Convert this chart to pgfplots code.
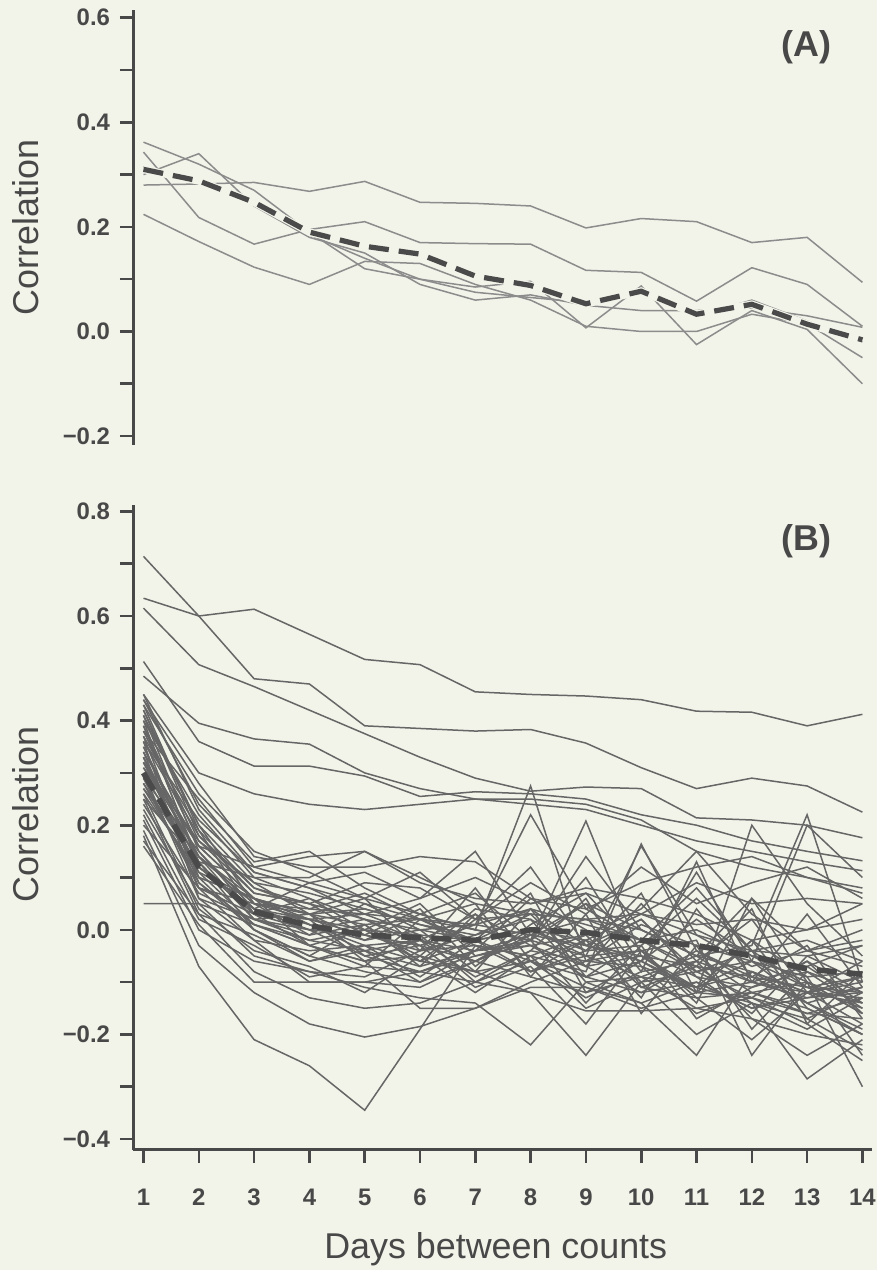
\documentclass[border=0pt]{standalone}
\usepackage{fontspec}
\setmainfont{Liberation Sans}
\usepackage{pgfplots}
\usepackage{pgfplotstable}
\pgfplotsset{compat=1.18}

\definecolor{paper}{HTML}{F2F3E9}
\definecolor{ink}{HTML}{484848}
\definecolor{traceA}{HTML}{8C8C8C}
\definecolor{traceB}{HTML}{666666}
\definecolor{meanline}{HTML}{4A4A4A}

% One row per site: correlation against days between counts (1..14)
\pgfplotstableread{
id d1 d2 d3 d4 d5 d6 d7 d8 d9 d10 d11 d12 d13 d14
a1 0.280 0.282 0.285 0.268 0.287 0.247 0.245 0.240 0.198 0.216 0.210 0.170 0.180 0.094
a2 0.343 0.218 0.167 0.195 0.210 0.170 0.168 0.167 0.117 0.113 0.058 0.122 0.090 0.010
a3 0.362 0.320 0.270 0.190 0.120 0.100 0.085 0.096 0.007 0.087 -0.025 0.040 0.004 -0.100
a4 0.224 0.172 0.123 0.090 0.134 0.130 0.090 0.060 0.010 0.000 0.000 0.033 0.015 -0.050
a5 0.300 0.340 0.240 0.180 0.150 0.090 0.060 0.070 0.050 0.040 0.040 0.045 0.030 0.008
a6 0.315 0.290 0.250 0.185 0.140 0.100 0.075 0.065 0.055 0.075 0.030 0.060 0.020 -0.020
}\sitesA
\pgfplotstabletranspose[colnames from=id]\sitesAT\sitesA

\pgfplotstableread{
day mean
1 0.310
2 0.288
3 0.247
4 0.190
5 0.163
6 0.148
7 0.106
8 0.088
9 0.053
10 0.077
11 0.033
12 0.052
13 0.014
14 -0.016
}\meanA

\pgfplotstableread{
id d1 d2 d3 d4 d5 d6 d7 d8 d9 d10 d11 d12 d13 d14
b1 0.714 0.600 0.480 0.470 0.390 0.385 0.380 0.383 0.357 0.310 0.270 0.290 0.275 0.225
b2 0.634 0.600 0.613 0.565 0.517 0.507 0.455 0.450 0.447 0.440 0.418 0.416 0.390 0.412
b3 0.615 0.507 0.465 0.420 0.375 0.330 0.290 0.265 0.273 0.270 0.214 0.210 0.200 0.176
b4 0.513 0.360 0.313 0.313 0.294 0.255 0.264 0.260 0.250 0.220 0.200 0.170 0.150 0.132
b5 0.485 0.395 0.365 0.355 0.300 0.270 0.250 0.240 0.230 0.200 0.170 0.150 0.130 0.113
b6 0.450 0.300 0.260 0.240 0.230 0.240 0.250 0.250 0.240 0.210 0.150 0.120 0.100 0.080
b7 0.440 0.240 0.130 0.150 0.080 0.030 0.000 -0.020 0.050 0.000 -0.050 -0.080 -0.120 -0.100
b8 0.420 0.200 0.050 0.020 -0.010 -0.030 0.010 0.040 -0.030 -0.060 0.020 -0.050 -0.100 -0.160
b9 0.410 0.150 0.030 -0.030 0.000 0.050 -0.050 -0.020 0.100 -0.070 -0.110 -0.020 -0.150 -0.200
b10 0.400 0.220 0.100 0.060 0.020 -0.020 -0.060 0.000 -0.040 0.020 -0.080 -0.130 -0.060 -0.120
b11 0.390 0.130 0.020 0.000 -0.050 -0.080 -0.040 0.060 0.000 -0.100 -0.040 -0.090 -0.140 -0.110
b12 0.380 0.250 0.120 0.140 0.150 0.100 0.050 0.030 0.020 -0.020 0.000 -0.050 -0.070 -0.030
b13 0.370 0.100 0.000 -0.050 -0.080 -0.100 -0.040 -0.010 -0.070 -0.120 -0.100 -0.150 -0.120 -0.180
b14 0.360 0.180 0.080 0.040 0.070 0.020 -0.030 -0.050 -0.010 0.040 0.150 0.030 -0.040 -0.020
b15 0.350 0.120 0.040 0.010 -0.020 0.000 -0.020 -0.060 -0.130 -0.080 -0.060 -0.100 -0.120 -0.130
b16 0.340 0.160 0.060 0.020 0.030 -0.010 -0.100 -0.040 -0.060 0.010 -0.030 -0.060 -0.090 -0.080
b17 0.330 0.080 -0.020 -0.040 -0.030 -0.060 -0.080 -0.120 -0.240 -0.100 -0.080 -0.060 -0.110 -0.150
b18 0.330 0.140 0.050 0.030 0.010 0.020 0.000 0.275 -0.060 -0.040 -0.090 -0.110 -0.080 -0.120
b19 0.320 0.110 0.010 -0.020 -0.040 -0.020 0.030 -0.030 -0.010 -0.110 -0.130 -0.120 -0.160 -0.130
b20 0.310 0.170 0.090 0.070 0.040 0.010 -0.010 0.020 -0.040 -0.030 0.060 -0.040 -0.020 -0.060
b21 0.300 0.120 0.030 0.000 -0.010 -0.040 -0.030 -0.080 -0.050 -0.040 -0.020 -0.240 -0.100 -0.160
b22 0.300 0.060 -0.020 -0.100 -0.100 -0.080 -0.050 -0.030 -0.070 -0.050 -0.120 -0.100 -0.130 -0.110
b23 0.290 0.150 0.040 0.000 0.020 -0.030 -0.060 -0.010 0.020 0.000 -0.050 -0.030 0.220 -0.100
b24 0.280 0.090 0.010 -0.030 -0.060 -0.050 0.040 0.020 -0.100 -0.140 -0.240 -0.080 -0.140 -0.190
b25 0.270 0.100 0.060 0.030 -0.020 0.030 0.000 -0.020 0.208 -0.050 -0.110 -0.140 -0.190 -0.130
b26 0.260 0.040 -0.040 -0.070 -0.120 -0.050 -0.080 -0.060 -0.090 -0.120 -0.060 -0.170 -0.200 -0.220
b27 0.250 0.130 0.100 0.100 0.150 0.090 0.060 0.050 0.070 0.030 0.010 0.020 0.000 0.050
b28 0.240 0.070 0.020 -0.020 0.000 -0.050 -0.120 -0.050 -0.080 0.164 -0.040 -0.100 -0.070 -0.140
b29 0.230 0.050 -0.050 -0.080 -0.110 -0.130 -0.140 -0.220 -0.100 -0.090 -0.150 -0.170 -0.240 -0.180
b30 0.220 0.020 -0.030 -0.090 -0.070 -0.080 -0.100 -0.060 -0.110 -0.150 -0.120 -0.130 -0.180 -0.250
b31 0.210 0.000 -0.060 -0.080 -0.090 -0.040 -0.010 0.040 0.010 -0.020 -0.080 -0.040 -0.110 -0.090
b32 0.200 0.080 0.050 0.040 0.030 0.020 0.010 -0.010 -0.030 -0.050 -0.070 -0.090 -0.110 -0.120
b33 0.190 -0.030 -0.120 -0.180 -0.205 -0.185 -0.150 -0.100 -0.060 -0.070 -0.160 -0.120 -0.150 -0.200
b34 0.180 -0.070 -0.210 -0.260 -0.345 -0.190 -0.030 -0.050 -0.150 -0.100 -0.200 -0.140 -0.285 -0.210
b35 0.170 0.030 -0.080 -0.130 -0.150 -0.140 -0.100 -0.120 -0.155 -0.155 -0.150 -0.130 -0.160 -0.170
b36 0.160 0.010 -0.100 -0.100 -0.100 -0.110 -0.060 -0.090 -0.120 -0.090 -0.110 -0.080 -0.120 -0.140
b37 0.050 0.050 0.010 -0.030 -0.060 -0.150 -0.150 -0.110 -0.110 -0.140 -0.100 -0.150 -0.130 -0.120
b38 0.440 0.280 0.140 0.120 0.120 0.140 0.130 0.060 0.040 0.090 0.120 0.140 0.100 0.070
b39 0.430 0.190 0.080 0.050 0.090 0.080 0.020 0.030 0.020 0.030 0.090 0.050 0.060 0.050
b40 0.360 0.210 0.110 0.080 0.030 0.060 0.100 0.050 0.080 0.060 0.030 -0.020 0.000 0.020
b41 0.340 0.090 0.000 -0.050 0.010 -0.060 -0.020 -0.080 -0.020 -0.060 -0.120 0.200 0.050 -0.050
b42 0.320 0.140 0.060 0.010 -0.040 -0.070 -0.040 -0.020 -0.050 -0.090 -0.050 -0.120 -0.100 -0.300
b43 0.280 0.120 0.040 0.020 0.000 -0.010 -0.020 0.000 -0.020 0.030 -0.010 -0.040 -0.050 -0.030
b44 0.260 0.110 0.060 0.010 -0.030 -0.020 -0.040 -0.030 -0.090 -0.060 -0.110 -0.060 0.200 0.100
b45 0.420 0.180 0.070 0.050 0.020 0.000 0.010 0.220 0.040 -0.020 -0.070 -0.140 -0.170 -0.230
b46 0.380 0.160 0.060 0.030 0.040 0.010 -0.020 0.000 -0.050 0.160 -0.010 -0.070 -0.040 -0.070
b47 0.450 0.230 0.110 0.080 0.050 0.020 -0.020 0.030 -0.070 0.050 -0.060 0.020 -0.120 -0.060
b48 0.410 0.200 0.090 0.030 0.060 -0.040 0.080 -0.060 -0.020 -0.130 0.040 -0.090 -0.030 -0.170
b49 0.390 0.170 0.070 0.050 -0.010 0.040 -0.070 0.010 0.070 -0.040 -0.140 0.060 -0.100 -0.140
b50 0.370 0.190 0.030 0.060 0.000 -0.060 0.020 0.120 -0.030 0.020 -0.090 -0.160 -0.050 -0.100
b51 0.350 0.140 0.020 -0.010 0.050 0.000 -0.080 0.040 -0.090 -0.020 0.080 -0.040 -0.170 -0.120
b52 0.330 0.100 0.060 -0.030 -0.070 0.020 0.050 -0.090 0.030 -0.160 -0.030 -0.190 -0.080 -0.150
b53 0.310 0.130 0.000 -0.060 -0.030 -0.090 -0.020 0.070 -0.120 -0.060 0.110 -0.060 -0.140 -0.200
b54 0.290 0.080 0.030 0.020 -0.060 -0.020 -0.090 -0.040 0.060 -0.110 -0.070 0.040 -0.180 -0.080
b55 0.270 0.140 0.050 -0.010 0.010 -0.070 0.030 -0.080 -0.040 0.070 -0.120 -0.020 -0.090 -0.240
b56 0.250 0.030 -0.010 -0.060 -0.040 -0.100 -0.060 -0.020 -0.140 -0.030 -0.170 -0.110 -0.060 -0.160
b57 0.400 0.120 0.040 0.090 0.110 0.060 0.150 -0.010 0.050 -0.080 0.130 -0.100 0.030 -0.110
b58 0.360 0.060 0.020 0.030 -0.050 -0.030 -0.110 -0.070 -0.180 -0.040 -0.130 -0.210 -0.120 -0.090
b59 0.320 0.160 0.120 0.090 0.060 0.110 0.020 0.090 0.030 0.120 0.050 0.090 0.120 0.060
b60 0.430 0.260 0.150 0.110 0.060 0.030 0.070 -0.020 0.140 0.000 -0.050 0.060 -0.040 0.000
}\sitesB
\pgfplotstabletranspose[colnames from=id]\sitesBT\sitesB

\pgfplotstableread{
day mean
1 0.300
2 0.120
3 0.035
4 0.008
5 -0.010
6 -0.015
7 -0.020
8 0.000
9 -0.005
10 -0.020
11 -0.030
12 -0.050
13 -0.075
14 -0.085
}\meanB

\pgfplotsset{
  panel/.style={
    x=27.65bp, y=261.5bp,
    xmin=0.81, xmax=14.17,
    anchor=south west,
    clip=false,
    axis y line*=left,
    axis line style={ink, line width=1.5bp, -},
    every tick/.style={ink, line width=1.3bp},
    major tick length=6.5bp, minor tick length=6.5bp,
    tick align=outside,
    yticklabel style={font=\bfseries\fontsize{12}{14}\selectfont, text=ink, xshift=-1.5bp},
    xticklabel style={font=\bfseries\fontsize{12}{14}\selectfont, text=ink, yshift=-9.5bp},
    every axis y label/.style={rotate=90, anchor=center, font=\fontsize{18}{20}\selectfont, text=ink},
  },
  site/.style={line width=0.75bp},
  meancase/.style={paper, line width=3.8bp},
  meandash/.style={meanline, line width=2.6bp, dash pattern=on 10bp off 5bp},
}

\begin{document}
\begin{tikzpicture}
\fill[paper] (0bp,0bp) rectangle (438.5bp,635bp);

% (A)
\begin{axis}[panel,
  at={(66.5bp,412.5bp)},
  ymin=-0.217, ymax=0.615,
  axis x line=none,
  ytick={-0.2,0,0.2,0.4,0.6},
  yticklabels={−0.2,0.0,0.2,0.4,0.6},
  minor ytick={-0.1,0.1,0.3,0.5},
  ylabel={Correlation},
  every axis y label/.append style={at={(axis description cs:-0.145,0.5)}},
]
\pgfplotsinvokeforeach{1,...,6}{
  \addplot[site, traceA] table[x expr=\coordindex+1, y=a#1] {\sitesAT};
}
\addplot[meancase] table[x=day, y=mean] {\meanA};
\addplot[meandash] table[x=day, y=mean] {\meanA};
\node[font=\bfseries\fontsize{18}{20}\selectfont, text=ink] at (axis description cs:0.912,0.913) {(A)};
\end{axis}

% (B)
\begin{axis}[panel,
  at={(66.5bp,60bp)},
  ymin=-0.421, ymax=0.813,
  axis x line*=bottom,
  xtick={1,2,3,4,5,6,7,8,9,10,11,12,13,14},
  xticklabels={1,2,3,4,5,6,7,8,9,10,11,12,13,14},
  ytick={-0.4,-0.2,0,0.2,0.4,0.6,0.8},
  yticklabels={−0.4,−0.2,0.0,0.2,0.4,0.6,0.8},
  minor ytick={-0.3,-0.1,0.1,0.3,0.5,0.7},
  ylabel={Correlation},
  every axis y label/.append style={at={(axis description cs:-0.145,0.52)}},
  xlabel={Days between counts},
  every axis x label/.style={at={(axis description cs:0.491,-0.1674)}, anchor=base, font=\fontsize{18}{20}\selectfont, text=ink},
]
\pgfplotsinvokeforeach{1,...,60}{
  \addplot[site, traceB] table[x expr=\coordindex+1, y=b#1] {\sitesBT};
}
\addplot[meandash, line width=2.8bp] table[x=day, y=mean] {\meanB};
\node[font=\bfseries\fontsize{18}{20}\selectfont, text=ink] at (axis description cs:0.912,0.944) {(B)};
\end{axis}

\pgfresetboundingbox
\path[use as bounding box] (0bp,0bp) rectangle (438.5bp,635bp);
\end{tikzpicture}
\end{document}
